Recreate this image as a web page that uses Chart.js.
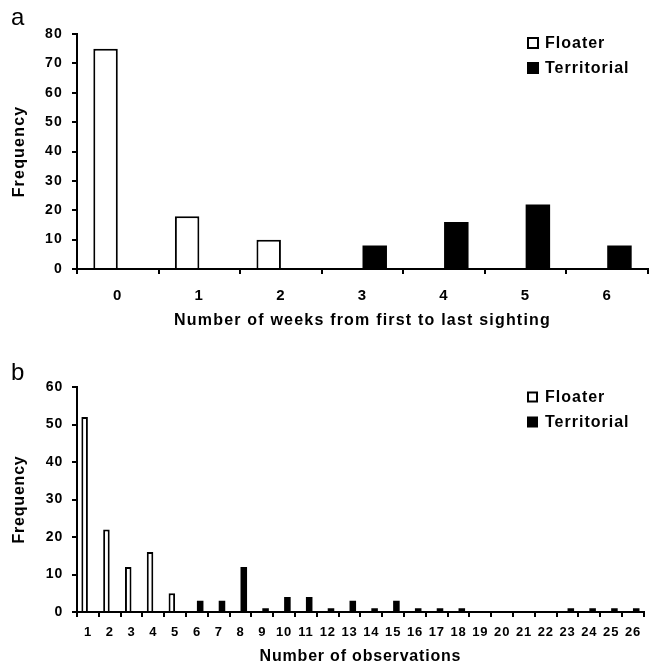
<!DOCTYPE html>
<html>
<head>
<meta charset="utf-8">
<script src="https://cdn.jsdelivr.net/npm/chart.js@4.4.1/dist/chart.umd.min.js"></script>
<style>
  html, body { margin: 0; padding: 0; background: #fff; }
  #wrap { position: relative; width: 649px; height: 666px; overflow: hidden; }
  canvas { position: absolute; left: 0; }
  #cA { top: 0; }
  #cB { top: 330px; }
</style>
</head>
<body>
<div id="wrap">
  <canvas id="cA" width="649" height="330"></canvas>
  <canvas id="cB" width="649" height="336"></canvas>
</div>
<script>
// ---- Data (panel a) ----
const weekLabels = ['0', '1', '2', '3', '4', '5', '6'];
const floaterWeeks = [75, 18, 10, 0, 0, 0, 0];
const territorialWeeks = [0, 0, 0, 8, 16, 22, 8];

// ---- Data (panel b) ----
const obsLabels = ['1','2','3','4','5','6','7','8','9','10','11','12','13','14','15','16','17','18','19','20','21','22','23','24','25','26'];
const floaterObs = [52, 22, 12, 16, 5, 0, 0, 0, 0, 0, 0, 0, 0, 0, 0, 0, 0, 0, 0, 0, 0, 0, 0, 0, 0, 0];
const territorialObs = [0, 0, 0, 0, 0, 3, 3, 12, 1, 4, 4, 1, 3, 1, 3, 1, 1, 1, 0, 0, 0, 0, 1, 1, 1, 1];

const seriesNames = ['Floater', 'Territorial'];
const FONT = '"Liberation Sans", Arial, sans-serif';

const spacingPlugin = {
  id: 'spacing',
  beforeUpdate(chart, args, opts) { chart.ctx.letterSpacing = opts.ls + 'px'; },
  beforeDraw(chart, args, opts) { chart.ctx.letterSpacing = opts.ls + 'px'; }
};

const extrasPlugin = {
  id: 'extras',
  afterDraw(chart, args, opts) {
    const ctx = chart.ctx;
    ctx.save();
    ctx.letterSpacing = '0px';
    // panel letter
    ctx.fillStyle = '#000';
    ctx.font = '24px ' + FONT;
    ctx.textBaseline = 'alphabetic';
    ctx.textAlign = 'left';
    ctx.fillText(opts.panel, 11, opts.panelY);
    // legend
    ctx.letterSpacing = opts.ls + 'px';
    ctx.font = 'bold 16px ' + FONT;
    ctx.textBaseline = 'middle';
    chart.data.datasets.forEach((ds, i) => {
      const x = opts.legX, cy = opts.legY + i * opts.legGap;
      const s = opts.box;
      ctx.fillStyle = '#000';
      ctx.fillRect(x, cy - s / 2, s, s);
      if (ds.backgroundColor !== '#000000') {
        ctx.fillStyle = ds.backgroundColor;
        ctx.fillRect(x + 2, cy - s / 2 + 2, s - 4, s - 4);
      }
      ctx.fillStyle = '#000';
      ctx.fillText(ds.label, x + 18, cy + 1);
    });
    ctx.restore();
  }
};

function makeChart(id, labels, fl, te, cfg) {
  return new Chart(document.getElementById(id), {
    type: 'bar',
    data: {
      labels: labels,
      datasets: [
        { label: seriesNames[0], data: fl, backgroundColor: '#ffffff', borderColor: '#000000', borderWidth: 2 },
        { label: seriesNames[1], data: te, backgroundColor: '#000000', borderColor: '#000000', borderWidth: 0 }
      ]
    },
    options: {
      responsive: false,
      animation: false,
      devicePixelRatio: 1,
      categoryPercentage: 0.6,
      barPercentage: 1.0,
      layout: { padding: { top: cfg.top, right: 1, left: 0, bottom: 0 } },
      plugins: {
        legend: { display: false },
        tooltip: { enabled: false },
        extras: cfg.extras,
        spacing: { ls: cfg.ls }
      },
      scales: {
        x: {
          offset: true,
          grid: { offset: true, drawOnChartArea: false, drawTicks: true, tickLength: 5, color: '#000', lineWidth: 2 },
          border: { display: true, color: '#000', width: 2 },
          ticks: { color: '#000', font: { family: FONT, size: cfg.xtick, weight: 'bold' }, padding: cfg.xpad, maxRotation: 0, autoSkip: false },
          title: { display: true, text: cfg.xtitle, color: '#000', font: { family: FONT, size: 16, weight: 'bold' }, padding: { top: 0, bottom: 0 } },
          afterFit(s) { s.height = cfg.xh; }
        },
        y: {
          min: 0, max: cfg.ymax,
          grid: { drawOnChartArea: false, drawTicks: true, tickLength: 5, color: '#000', lineWidth: 2 },
          border: { display: true, color: '#000', width: 2 },
          ticks: { stepSize: 10, color: '#000', font: { family: FONT, size: 14, weight: 'bold' }, padding: 9 },
          title: { display: true, text: 'Frequency', color: '#000', font: { family: FONT, size: 16, weight: 'bold' }, padding: { top: 10, bottom: 0 } },
          afterFit(s) { s.width = 77; }
        }
      }
    },
    plugins: [spacingPlugin, extrasPlugin]
  });
}

makeChart('cA', weekLabels, floaterWeeks, territorialWeeks, {
  top: 34, xh: 61, ymax: 80, xtick: 15, xpad: 13, ls: 1.2,
  xtitle: 'Number of weeks from first to last sighting',
  extras: { panel: 'a', panelY: 25, legX: 527, legY: 43, legGap: 25, box: 12, ls: 1 }
});

makeChart('cB', obsLabels, floaterObs, territorialObs, {
  top: 57, xh: 54, ymax: 60, xtick: 13, xpad: 8, ls: 0.8,
  xtitle: 'Number of observations',
  extras: { panel: 'b', panelY: 50, legX: 527, legY: 67, legGap: 25, box: 11, ls: 1 }
});
</script>
</body>
</html>
